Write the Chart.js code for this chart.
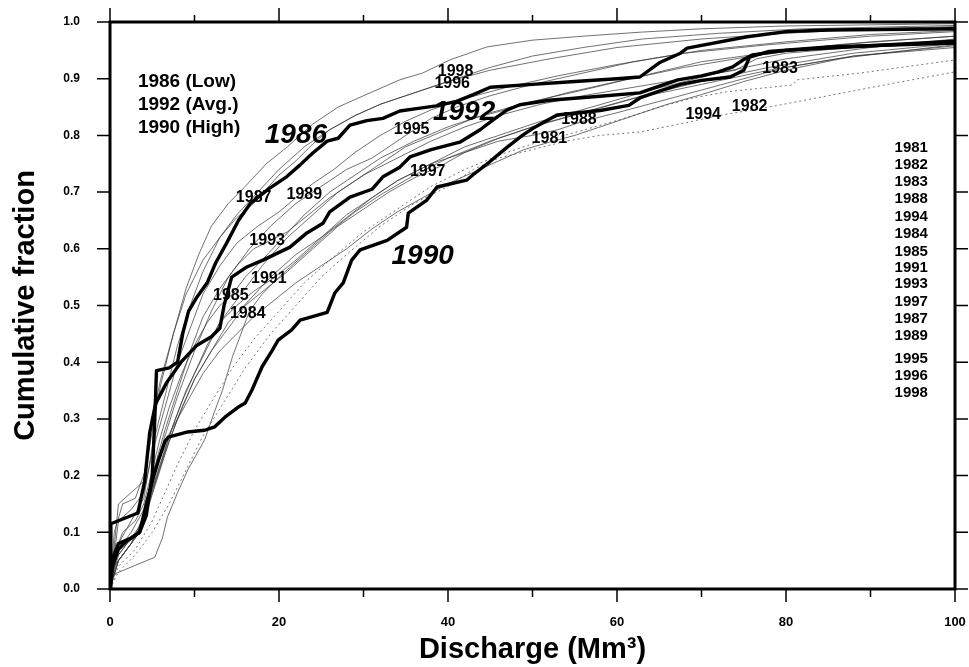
<!DOCTYPE html>
<html><head><meta charset="utf-8">
<script src="https://cdn.jsdelivr.net/npm/chart.js@4.4.1/dist/chart.umd.min.js"></script>
<style>html,body{margin:0;padding:0;background:#fff;}#wrap{width:969px;height:667px;}</style>
</head><body><div id="wrap"><canvas id="c" width="969" height="667"></canvas></div>
<script>
// ---- tick values ----
const xTickVals = [0,10,20,30,40,50,60,70,80,90,100];
const yTickVals = [0,0.1,0.2,0.3,0.4,0.5,0.6,0.7,0.8,0.9,1.0];

// ---- series (discharge Mm3, cumulative fraction) ----
const s1986 = [[0,0],[0.3,0.04],[1,0.07],[2,0.085],[3.5,0.1],[4.3,0.13],[5,0.2],[5.3,0.3],[5.5,0.385],[7,0.39],[8,0.4],[8.6,0.45],[9.3,0.49],[10.3,0.515],[11.5,0.54],[12.5,0.575],[13.8,0.61],[15.2,0.65],[16.6,0.68],[18.9,0.707],[20.9,0.727],[22.5,0.748],[24,0.769],[25.7,0.79],[27,0.795],[28.4,0.818],[30.4,0.826],[32.3,0.83],[34.3,0.843],[36.7,0.848],[38.6,0.852],[41,0.86],[43,0.872],[45,0.885],[50,0.89],[55,0.895],[60,0.9],[62.7,0.903],[65,0.928],[67.5,0.945],[68.3,0.954],[75.4,0.974],[80,0.983],[85,0.986],[100,0.988]];
const s1992 = [[0,0],[0.1,0.115],[3.3,0.134],[4.1,0.19],[4.7,0.276],[5.4,0.327],[6.7,0.364],[8.4,0.4],[10.3,0.43],[12,0.445],[13,0.46],[13.5,0.5],[14.4,0.55],[16.2,0.568],[18.1,0.58],[21.3,0.603],[23.3,0.628],[25.2,0.645],[26,0.665],[28.4,0.691],[31,0.705],[32.3,0.727],[34.3,0.744],[35.5,0.762],[38,0.775],[41.4,0.788],[43.8,0.81],[45.3,0.827],[47,0.845],[48.5,0.854],[52,0.862],[58,0.869],[62.7,0.875],[65,0.887],[67.2,0.898],[70,0.905],[72,0.912],[73.7,0.921],[74.9,0.933],[76,0.942],[80,0.95],[90,0.958],[100,0.966]];
const s1990 = [[0,0],[0.2,0.05],[1,0.08],[2.5,0.09],[3.5,0.1],[4.3,0.15],[5.2,0.2],[5.8,0.23],[6.5,0.26],[6.9,0.268],[9.2,0.277],[11.2,0.28],[12.4,0.286],[13.6,0.303],[15.1,0.32],[16,0.328],[16.8,0.351],[18,0.392],[19.2,0.421],[19.9,0.439],[21.5,0.457],[22.5,0.474],[25.7,0.488],[26.6,0.522],[27.6,0.54],[28.6,0.58],[29.6,0.598],[32.8,0.615],[35.1,0.638],[35.3,0.663],[37.5,0.686],[38.7,0.709],[42.2,0.721],[43,0.731],[44.9,0.753],[46.9,0.778],[48.8,0.8],[50,0.812],[52.9,0.836],[58,0.844],[61.4,0.853],[62.7,0.866],[65,0.878],[67.5,0.89],[70,0.897],[73.4,0.903],[75,0.915],[75.7,0.938],[78,0.948],[85,0.956],[100,0.963]];
const s1981 = [[0,0],[0.5,0.05],[2,0.08],[3.5,0.1],[4.5,0.16],[5.5,0.22],[6.5,0.26],[8,0.3],[9.5,0.34],[11,0.38],[13,0.42],[15,0.45],[17,0.48],[19.5,0.51],[22,0.54],[25,0.57],[28,0.6],[31,0.635],[34,0.665],[37,0.69],[40,0.715],[43,0.735],[46,0.755],[49,0.775],[52,0.788],[55,0.8],[58,0.815],[62,0.835],[66,0.855],[70,0.872],[75,0.895],[80,0.915],[88,0.94],[100,0.958]];
const s1982 = [[0,0],[1,0.04],[3,0.07],[5,0.12],[6.5,0.17],[8,0.22],[10,0.28],[12,0.33],[14.5,0.39],[17,0.44],[20,0.49],[23,0.54],[26,0.58],[30,0.63],[34,0.67],[38,0.71],[42,0.74],[46,0.765],[50,0.785],[55,0.805],[60.4,0.828],[65,0.85],[69,0.866],[73,0.877],[80.8,0.889],[81.3,0.898],[88.8,0.91],[100,0.933]];
const s1983 = [[0,0],[1,0.05],[3,0.09],[4.5,0.15],[6,0.22],[7.5,0.29],[9,0.35],[11,0.41],[13,0.47],[15.5,0.52],[18,0.57],[21,0.62],[24,0.66],[27,0.7],[30,0.73],[34,0.76],[38,0.79],[42,0.815],[46,0.835],[51,0.855],[56,0.87],[62,0.885],[68,0.9],[74,0.915],[76.5,0.935],[80,0.945],[88,0.955],[100,0.968]];
const s1984 = [[0,0],[0.3,0.025],[5.3,0.056],[6.2,0.09],[6.8,0.127],[8,0.17],[9.2,0.21],[11.2,0.263],[12.3,0.31],[13.3,0.35],[14.5,0.41],[15.5,0.45],[16.5,0.49],[18,0.52],[20,0.55],[23,0.59],[26,0.63],[29,0.665],[32,0.695],[36,0.73],[40,0.76],[45,0.79],[50,0.815],[56,0.84],[62,0.865],[70,0.89],[78,0.915],[86,0.935],[100,0.96]];
const s1985 = [[0,0],[0.5,0.06],[1.5,0.1],[3,0.12],[4,0.15],[5,0.21],[6,0.27],[7,0.32],[8.5,0.38],[10,0.43],[11.5,0.47],[13,0.5],[14.5,0.52],[16,0.55],[18,0.58],[20.5,0.62],[23,0.66],[26,0.7],[29,0.73],[32,0.76],[36,0.79],[40,0.815],[45,0.84],[50,0.86],[56,0.88],[63,0.905],[70,0.93],[80,0.95],[90,0.965],[100,0.975]];
const s1987 = [[0,0],[0.5,0.1],[1.5,0.15],[3,0.16],[4.2,0.21],[5,0.3],[6,0.37],[7.5,0.45],[9,0.52],[11,0.58],[13,0.62],[15,0.655],[17,0.68],[18.5,0.705],[20,0.73],[22,0.755],[24,0.785],[26,0.81],[29,0.835],[32,0.855],[36,0.875],[40,0.895],[45,0.915],[52,0.935],[60,0.955],[70,0.97],[80,0.98],[90,0.988],[100,0.992]];
const s1988 = [[0,0],[0.5,0.04],[2,0.07],[3.5,0.1],[5,0.17],[6.5,0.24],[8,0.3],[10,0.37],[12,0.42],[14,0.47],[16.5,0.51],[19,0.55],[22,0.59],[25,0.62],[28,0.66],[31,0.69],[34,0.72],[38,0.75],[42,0.77],[46,0.79],[50,0.8],[53,0.81],[56,0.825],[60,0.84],[65,0.86],[70,0.88],[75,0.9],[80,0.92],[88,0.94],[100,0.955]];
const s1989 = [[0,0],[1,0.12],[2.5,0.14],[4,0.17],[5,0.24],[6.5,0.32],[8,0.4],[9.5,0.46],[11,0.52],[13,0.57],[15,0.61],[17.5,0.64],[20,0.665],[22,0.69],[24,0.715],[26.5,0.74],[29,0.77],[32,0.8],[35,0.825],[38,0.845],[42,0.865],[47,0.885],[53,0.905],[60,0.925],[68,0.945],[78,0.96],[90,0.975],[100,0.983]];
const s1991 = [[0,0],[1,0.05],[2.5,0.08],[4,0.13],[5.5,0.2],[7,0.27],[8.5,0.33],[10,0.38],[11.5,0.43],[13,0.47],[15,0.5],[17,0.525],[19.5,0.55],[22,0.58],[25,0.62],[28,0.655],[31,0.69],[34,0.72],[38,0.75],[42,0.78],[46,0.8],[51,0.825],[57,0.85],[64,0.88],[72,0.91],[80,0.935],[90,0.955],[100,0.97]];
const s1993 = [[0,0],[1,0.07],[2.5,0.1],[4,0.14],[5,0.2],[6.5,0.28],[8,0.35],[9.5,0.42],[11,0.48],[13,0.53],[15,0.57],[17,0.6],[19,0.615],[21,0.63],[23.5,0.66],[26,0.69],[29,0.72],[32,0.75],[35,0.78],[39,0.805],[43,0.83],[48,0.85],[54,0.875],[60,0.895],[68,0.92],[76,0.94],[86,0.96],[100,0.975]];
const s1994 = [[0,0],[1,0.03],[3,0.06],[5,0.1],[7,0.15],[9,0.21],[11,0.27],[13.5,0.33],[16,0.39],[19,0.45],[22,0.5],[25,0.55],[28,0.59],[32,0.64],[36,0.68],[40,0.71],[43,0.74],[46,0.76],[50,0.775],[54,0.79],[58,0.8],[62.7,0.806],[68,0.822],[72,0.835],[78,0.85],[85,0.87],[92,0.89],[100,0.912]];
const s1995 = [[0,0],[1,0.06],[2.5,0.09],[4,0.12],[5,0.19],[6.5,0.27],[8,0.34],[10,0.42],[12,0.49],[14,0.55],[16.5,0.6],[19,0.64],[22,0.68],[25,0.71],[28,0.74],[31,0.76],[33,0.78],[36,0.81],[38,0.83],[41,0.85],[45,0.87],[50,0.89],[56,0.91],[62,0.93],[70,0.95],[80,0.965],[90,0.978],[100,0.985]];
const s1996 = [[0,0],[1,0.08],[2.5,0.12],[4,0.16],[5,0.25],[6.5,0.34],[8,0.43],[9.5,0.5],[11,0.56],[13,0.62],[15,0.66],[17.5,0.7],[20,0.74],[23,0.78],[26,0.81],[29,0.835],[32,0.855],[35,0.87],[38,0.885],[41,0.9],[45,0.92],[50,0.94],[56,0.955],[63,0.97],[72,0.98],[82,0.988],[100,0.994]];
const s1997 = [[0,0],[1,0.05],[2.5,0.08],[4,0.12],[5.5,0.19],[7,0.26],[8.5,0.32],[10,0.37],[12,0.42],[14,0.46],[16,0.5],[18.5,0.53],[21,0.56],[24,0.6],[27,0.64],[30,0.67],[33,0.7],[36,0.725],[39,0.745],[42,0.77],[46,0.795],[51,0.82],[57,0.845],[63,0.87],[70,0.895],[78,0.92],[88,0.945],[100,0.962]];
const s1998 = [[0,0],[1,0.15],[2.5,0.17],[4,0.19],[5,0.28],[6,0.36],[7.5,0.45],[9,0.53],[10.5,0.59],[12,0.64],[14,0.68],[16,0.71],[18.5,0.75],[21,0.78],[24,0.82],[27,0.85],[30,0.87],[34.3,0.898],[37,0.91],[40.2,0.933],[44.6,0.956],[50,0.968],[56,0.975],[62.7,0.982],[70,0.988],[80,0.993],[100,0.997]];

const thickYears = ['1986','1992','1990'];
const thinYears = ['1981','1982','1983','1984','1985','1987','1988','1989','1991','1993','1994','1995','1996','1997','1998'];
const dottedYears = ['1982','1994'];

// ---- annotation text ----
const legendTexts = ['1986 (Low)','1992 (Avg.)','1990 (High)'];
const legendY = [0.894,0.854,0.813];
const legendX = 3.3;
const bigLabels = ['1986','1992','1990'];
const bigLabelX = [22.0,41.9,37.0];
const bigLabelY = [0.80,0.84,0.587];
const curveLabels = ['1987','1989','1993','1991','1985','1984','1995','1998','1996','1997','1988','1981','1994','1982','1983'];
const curveLabelX = [17.0,23.0,18.6,18.8,14.3,16.3,35.7,40.9,40.5,37.6,55.5,52.0,70.2,75.7,79.3];
const curveLabelY = [0.69,0.695,0.614,0.547,0.517,0.485,0.81,0.912,0.892,0.737,0.827,0.794,0.836,0.85,0.917];
const listYears = ['1981','1982','1983','1988','1994','1984','1985','1991','1993','1997','1987','1989','1995','1996','1998'];
const listY = [0.778,0.748,0.718,0.688,0.656,0.626,0.594,0.566,0.538,0.506,0.476,0.446,0.406,0.376,0.346];
const listX = 96.8;

const series = {'1986':s1986,'1992':s1992,'1990':s1990,'1981':s1981,'1982':s1982,'1983':s1983,'1984':s1984,'1985':s1985,'1987':s1987,'1988':s1988,'1989':s1989,'1991':s1991,'1993':s1993,'1994':s1994,'1995':s1995,'1996':s1996,'1997':s1997,'1998':s1998};

const FONT = "'Liberation Sans', Arial, Helvetica, sans-serif";
const datasets = [];
thickYears.forEach(yr => datasets.push({label:yr, data:series[yr].map(p=>({x:p[0],y:p[1]})), borderColor:'#000', borderWidth:3.4, pointRadius:0, tension:0, order:0, borderJoinStyle:'round'}));
thinYears.forEach(yr => {
  const dotted = dottedYears.includes(yr);
  datasets.push({label:yr, data:series[yr].map(p=>({x:p[0],y:p[1]})), borderColor: dotted ? '#777' : '#333', borderWidth: dotted ? 1 : 0.7, borderDash: dotted ? [2,3] : [], pointRadius:0, tension:0, order:1});
});

function noPad(s){ s.paddingLeft = 0; s.paddingRight = 0; s.paddingTop = 0; s.paddingBottom = 0; }

const framePlugin = {
  id:'frame',
  afterDatasetsDraw(chart){
    const {ctx, chartArea:a, scales:{x,y}} = chart;
    ctx.save();
    ctx.strokeStyle = '#000';
    ctx.lineWidth = 1.5;
    ctx.beginPath();
    xTickVals.forEach(v => {
      const px = x.getPixelForValue(v);
      const major = v % 20 === 0;
      ctx.moveTo(px, a.bottom); ctx.lineTo(px, a.bottom + (major ? 13 : 8));
      ctx.moveTo(px, a.top); ctx.lineTo(px, a.top - (major ? 14 : 7));
    });
    yTickVals.forEach(v => {
      const py = y.getPixelForValue(v);
      ctx.moveTo(a.left, py); ctx.lineTo(a.left - 13, py);
      ctx.moveTo(a.right, py); ctx.lineTo(a.right + 13, py);
    });
    ctx.stroke();
    ctx.lineWidth = 3;
    ctx.strokeRect(a.left, a.top, a.right - a.left, a.bottom - a.top);

    ctx.fillStyle = '#000';
    ctx.textBaseline = 'middle';
    ctx.textAlign = 'left';
    ctx.font = 'bold 19px ' + FONT;
    legendTexts.forEach((t,i) => ctx.fillText(t, x.getPixelForValue(legendX), y.getPixelForValue(legendY[i])));
    ctx.textAlign = 'center';
    ctx.font = 'bold 16px ' + FONT;
    curveLabels.forEach((t,i) => ctx.fillText(t, x.getPixelForValue(curveLabelX[i]), y.getPixelForValue(curveLabelY[i])));
    ctx.font = 'italic bold 28px ' + FONT;
    bigLabels.forEach((t,i) => ctx.fillText(t, x.getPixelForValue(bigLabelX[i]), y.getPixelForValue(bigLabelY[i])));
    ctx.textAlign = 'right';
    ctx.font = 'bold 15px ' + FONT;
    listYears.forEach((t,i) => ctx.fillText(t, x.getPixelForValue(listX), y.getPixelForValue(listY[i])));
    ctx.restore();
  }
};

new Chart(document.getElementById('c'), {
  type:'line',
  data:{datasets},
  options:{
    responsive:false,
    animation:false,
    devicePixelRatio:1,
    layout:{padding:{top:22,right:14,left:0,bottom:0}},
    plugins:{legend:{display:false},tooltip:{enabled:false}},
    scales:{
      x:{type:'linear',min:0,max:100,
        ticks:{stepSize:20,autoSkip:false,maxRotation:0,padding:26,color:'#000',font:{family:FONT,size:13,weight:'bold'}},
        grid:{display:false,drawTicks:false},border:{display:false},
        title:{display:true,text:'Discharge (Mm³)',color:'#000',font:{family:FONT,size:29,weight:'bold'},padding:{top:0,bottom:0}},
        afterFit(s){s.height=78; noPad(s);}
      },
      y:{type:'linear',min:0,max:1,
        ticks:{stepSize:0.1,autoSkip:false,padding:30,color:'#000',font:{family:FONT,size:12,weight:'bold'},callback:v=>Number(v).toFixed(1)},
        grid:{display:false,drawTicks:false},border:{display:false},
        title:{display:true,text:'Cumulative fraction',color:'#000',font:{family:FONT,size:29,weight:'bold'},padding:{top:9,bottom:0}},
        afterFit(s){s.width=110; noPad(s);}
      }
    }
  },
  plugins:[framePlugin]
});
</script></body></html>
